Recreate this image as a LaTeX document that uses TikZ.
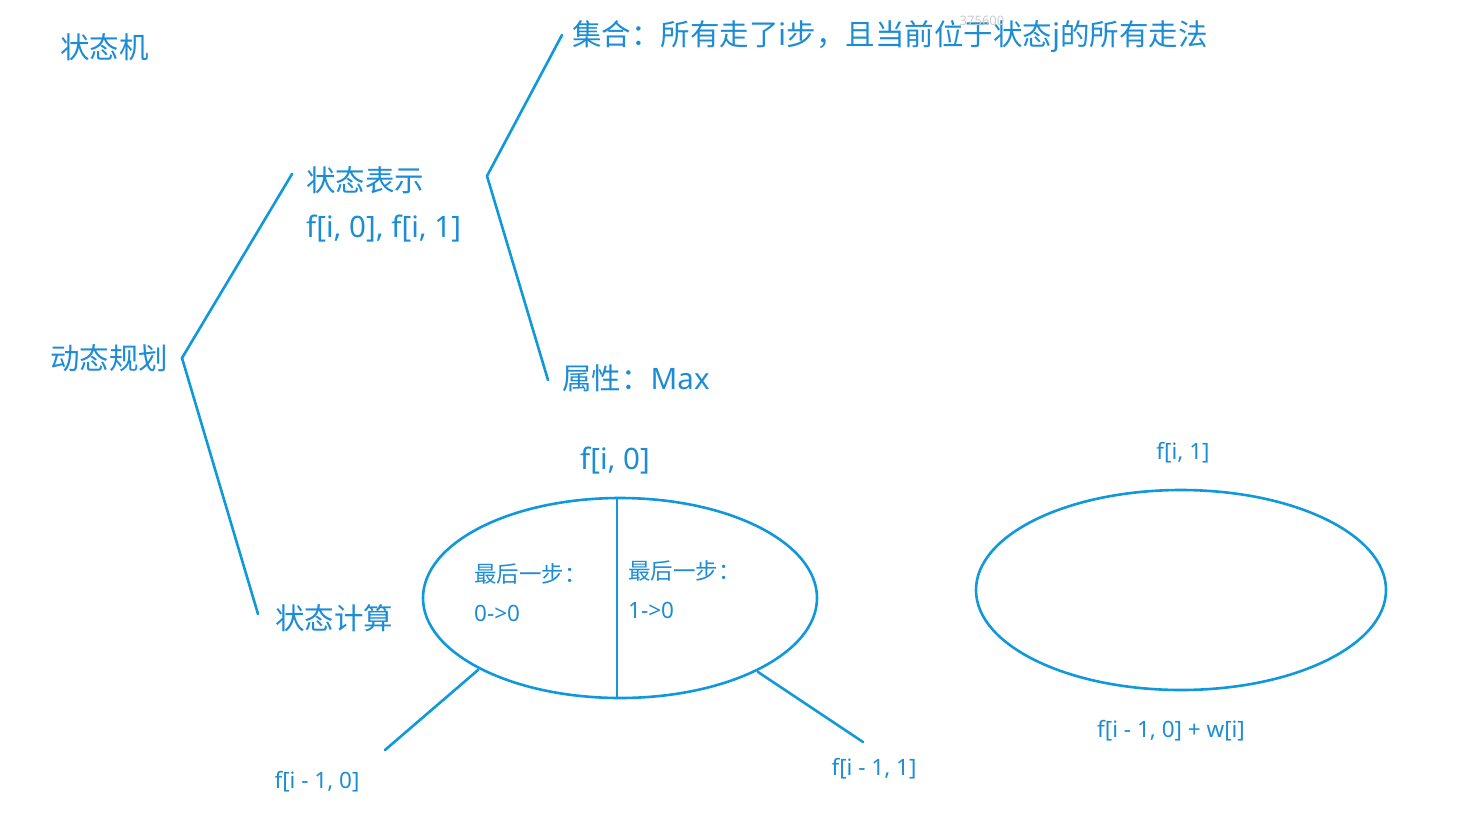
\documentclass[tikz,border=0pt]{standalone}
\usepackage{fontspec}
\setmainfont{Noto Sans}
\newfontfamily\cjk{Noto Sans CJK SC}
\usetikzlibrary{shapes.geometric}
\definecolor{inkblue}{RGB}{28,140,212}
\definecolor{lineblue}{RGB}{16,152,220}
\tikzset{
  big/.style={text=inkblue,inner sep=0pt,anchor=west,font=\fontsize{29.5}{32}\selectfont},
  small/.style={text=inkblue,inner sep=0pt,anchor=west,font=\fontsize{22.5}{25}\selectfont},
  branch/.style={draw=lineblue,line width=2.6pt,line cap=round},
  setoval/.style={ellipse,draw=lineblue,line width=2.6pt,inner sep=0pt},
}
\begin{document}
\begin{tikzpicture}[x=1pt,y=-1pt]
  \useasboundingbox (0,0) rectangle (1484,828);
  % titles and tree labels
  \node[big] (sm) at (60,47) {\cjk 状态机};
  \node[big] (dp) at (50,358) {\cjk 动态规划};
  \node[big] (rep) at (306,180) {\cjk 状态表示};
  \node[big] (repf) at (306,229) {f[i, 0], f[i, 1]};
  \node[big] (set) at (572,37) {\cjk 集合：所有走了i步，且当前位于状态j的所有走法};
  \node[big] (prop) at (562,378) {{\cjk 属性：}Max};
  \node[big] (calc) at (275,618) {\cjk 状态计算};
  \node[text=gray!40,inner sep=0pt,font=\fontsize{13}{15}\selectfont] (wm) at (982,21) {375600};
  % bracket points
  \coordinate (dpv) at (182,358);
  \coordinate (dpu) at (292,174);
  \coordinate (dpd) at (258,614);
  \coordinate (repv) at (487,176);
  \coordinate (repu) at (562,35);
  \coordinate (repd) at (548,380);
  \draw[branch] (dpu) -- (dpv) -- (dpd);
  \draw[branch] (repu) -- (repv) -- (repd);
  % f[i,0] split
  \node[setoval,minimum width=394,minimum height=200] (e0) at (620,598) {};
  \node[big,anchor=center] (e0t) at (615,461) {f[i, 0]};
  \coordinate (mid0) at (617,499);
  \coordinate (mid1) at (617,698);
  \draw[branch,line cap=butt] (mid0) -- (mid1);
  \node[small] (l0a) at (474,574) {\cjk 最后一步：};
  \node[small] (l0b) at (474,613) {0->0};
  \node[small] (l1a) at (628,571) {\cjk 最后一步：};
  \node[small] (l1b) at (628,610) {1->0};
  \coordinate (lend) at (385,750);
  \coordinate (rend) at (863,742);
  \draw[branch] (478,670) -- (lend);
  \draw[branch] (758,672) -- (rend);
  \node[small,anchor=center] (fl) at (317,782) {f[i - 1, 0]};
  \node[small,anchor=center] (fr) at (874,769) {f[i - 1, 1]};
  % f[i,1]
  \node[setoval,minimum width=410,minimum height=200] (e1) at (1181,590) {};
  \node[small,anchor=center] (e1t) at (1183,453) {f[i, 1]};
  \node[small,anchor=center] (e1b) at (1171,731) {f[i - 1, 0] + w[i]};
\end{tikzpicture}
\end{document}
